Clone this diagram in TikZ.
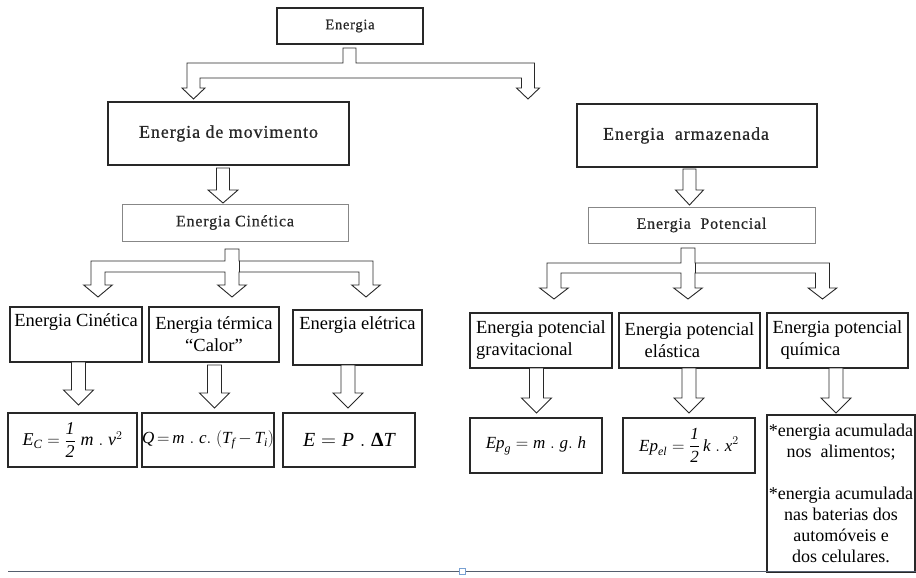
\documentclass[tikz,border=0pt]{standalone}
\usepackage{amsmath}
\usepackage{fontspec}
\setmainfont{Liberation Serif}
\newfontfamily\spaced[LetterSpace=5, FakeBold=0.8]{Liberation Serif}
\usetikzlibrary{calc}
\definecolor{inkgray}{RGB}{40,40,40}
\definecolor{boxgray}{RGB}{135,135,135}
\definecolor{rulegray}{RGB}{85,95,110}
\definecolor{handleblue}{RGB}{120,160,210}

\newcommand{\itf}[1]{\textit{#1}}
% stem half width, head half width, head height of the block arrows
\newcommand{\stemw}{7}
\newcommand{\headw}{14.5}
\newcommand{\headh}{15}

% source, target, x, gap below source, gap above target
\newcommand{\blockarrow}[5]{%
  \coordinate (top) at ($(#1.south -| #3,0)+(0,#4)$);
  \coordinate (tip) at ($(#2.north -| #3,0)+(0,-#5)$);
  \draw[blockarrow] ($(top)+(-\stemw,0)$) -- ($(top)+(\stemw,0)$)
    -- ($(tip)+(\stemw,-\headh)$) -- ($(tip)+(\headw,-\headh)$) -- (tip)
    -- ($(tip)+(-\headw,-\headh)$) -- ($(tip)+(-\stemw,-\headh)$) -- cycle;}

% source, stem x, gap, bar top, bar bottom, left x, right x, tip y
\newcommand{\forktwo}[8]{%
  \coordinate (top) at ($(#1.south -| #2,0)+(0,#3)$);
  \draw[blockarrow] ($(top)+(-\stemw,0)$) -- ($(top)+(\stemw,0)$) -- ({#2+\stemw},#4)
    -- ({#7+\stemw},#4) -- ({#7+\stemw},{#8-\headh}) -- ({#7+\headw},{#8-\headh}) -- (#7,#8)
    -- ({#7-\headw},{#8-\headh}) -- ({#7-\stemw},{#8-\headh}) -- ({#7-\stemw},#5)
    -- ({#6+\stemw},#5) -- ({#6+\stemw},{#8-\headh}) -- ({#6+\headw},{#8-\headh}) -- (#6,#8)
    -- ({#6-\headw},{#8-\headh}) -- ({#6-\stemw},{#8-\headh}) -- ({#6-\stemw},#4)
    -- ({#2-\stemw},#4) -- cycle;}

% same, with a middle branch under the stem
\newcommand{\forkthree}[8]{%
  \coordinate (top) at ($(#1.south -| #2,0)+(0,#3)$);
  \draw[blockarrow] ($(top)+(-\stemw,0)$) -- ($(top)+(\stemw,0)$) -- ({#2+\stemw},#4)
    -- ({#7+\stemw},#4) -- ({#7+\stemw},{#8-\headh}) -- ({#7+\headw},{#8-\headh}) -- (#7,#8)
    -- ({#7-\headw},{#8-\headh}) -- ({#7-\stemw},{#8-\headh}) -- ({#7-\stemw},#5)
    -- ({#2+\stemw},#5) -- ({#2+\stemw},{#8-\headh}) -- ({#2+\headw},{#8-\headh}) -- (#2,#8)
    -- ({#2-\headw},{#8-\headh}) -- ({#2-\stemw},{#8-\headh}) -- ({#2-\stemw},#5)
    -- ({#6+\stemw},#5) -- ({#6+\stemw},{#8-\headh}) -- ({#6+\headw},{#8-\headh}) -- (#6,#8)
    -- ({#6-\headw},{#8-\headh}) -- ({#6-\stemw},{#8-\headh}) -- ({#6-\stemw},#4)
    -- ({#2-\stemw},#4) -- cycle;
  \draw[blockarrow] ({#2+\stemw},#4) -- ({#2+\stemw},#5);}

\begin{document}
\begin{tikzpicture}[x=1pt, y=-1pt,
    plainbox/.style={draw=inkgray, line width=1.2pt, inner sep=0pt, outer sep=0pt,
      anchor=north west, align=center, text=inkgray},
    headbox/.style={plainbox, font=\spaced\fontsize{18}{21}\selectfont},
    subbox/.style={plainbox, draw=boxgray, line width=0.9pt, font=\spaced\fontsize{16}{19}\selectfont},
    leafbox/.style={plainbox, line width=1.4pt, text=black, font=\fontsize{18.5}{22}\selectfont},
    formbox/.style={plainbox, line width=1.4pt, text=black, font=\fontsize{17}{20}\selectfont},
    blockarrow/.style={draw=inkgray, line width=0.9pt, fill=white, line join=miter}
    ]
    \useasboundingbox (0,0) rectangle (916,578);

    % top levels
    \node[headbox, minimum width=146pt, minimum height=36pt, font=\spaced\fontsize{14.5}{17}\selectfont] (energia) at (277,8) {Energia};
    \node[headbox, minimum width=241pt, minimum height=63pt] (movimento) at (108,102) {Energia de movimento};
    \node[headbox, minimum width=240pt, minimum height=63pt] (armazenada) at (577,104) {Energia\ \ armazenada\hspace{22pt}};
    \node[subbox, minimum width=226pt, minimum height=37pt] (cinetica) at (122,204) {Energia Cinética};
    \node[subbox, minimum width=227pt, minimum height=36pt] (potencial) at (588,207) {Energia\ \ Potencial};

    % kinds of energy
    \node[leafbox, minimum width=132pt, minimum height=55pt] (ecin) at (10,307) {Energia Cinética\\ \strut};
    \node[leafbox, minimum width=130pt, minimum height=55pt] (eterm) at (149,307) {Energia térmica\\``Calor''};
    \node[leafbox, minimum width=129pt, minimum height=55pt] (eelet) at (293,310) {Energia elétrica\\ \strut};
    \node[leafbox, align=left, minimum width=142pt, minimum height=55pt] (egrav) at (470,313) {Energia potencial\\gravitacional};
    \node[leafbox, align=left, minimum width=141pt, minimum height=55pt] (eelas) at (619,313) {Energia potencial\\\hspace*{20pt}elástica};
    \node[leafbox, align=left, minimum width=141pt, minimum height=55pt] (equim) at (767,313) {Energia potencial\\\hspace*{8pt}química};

    % formulas
    \node[formbox, minimum width=129pt, minimum height=54pt, font=\fontsize{18}{21}\selectfont] (fcin) at (8,413) {$\itf{E}_{\itf{C}} = \dfrac{\itf{1}}{\itf{2}}\;\itf{m}\;.\;\itf{v}^{2}$};
    \node[formbox, minimum width=132pt, minimum height=54pt] (fterm) at (142,413) {$\itf{Q}\,{=}\,\itf{m}\;.\;\itf{c}.\;(\itf{T}_{\itf{f}}\,{-}\,\itf{T}_{\itf{i}})$};
    \node[formbox, minimum width=132pt, minimum height=54pt, font=\fontsize{20}{24}\selectfont] (felet) at (283,413) {$\itf{E} = \itf{P}\;.\;\textbf{Δ}\itf{T}$};
    \node[formbox, minimum width=132pt, minimum height=55pt] (fgrav) at (470,418) {$\itf{Ep}_{\itf{g}} = \itf{m}\;.\;\itf{g}.\;\itf{h}$};
    \node[formbox, minimum width=132pt, minimum height=55pt] (felas) at (623,418) {$\itf{Ep}_{\itf{el}} = \dfrac{\itf{1}}{\itf{2}}\,\itf{k}\;.\;\itf{x}^{2}$};
    \node[formbox, minimum width=148pt, minimum height=157pt, font=\fontsize{18}{21}\selectfont] (fquim) at (767,415)
      {*energia acumulada\\nos\ \ alimentos;\\[21pt]*energia acumulada\\nas baterias dos\\automóveis e\\dos celulares.};

    % the block arrows
    \renewcommand{\stemw}{6.5}\renewcommand{\headw}{11.5}\renewcommand{\headh}{11}
    \forktwo{energia}{349.5}{4}{63}{78}{193.5}{528}{99}
    \renewcommand{\headw}{15}\renewcommand{\headh}{13}
    \blockarrow{movimento}{cinetica}{223}{3}{1}
    \renewcommand{\headw}{14}\renewcommand{\headh}{15}
    \blockarrow{armazenada}{potencial}{689.5}{2}{2}
    \renewcommand{\stemw}{7}\renewcommand{\headw}{14.3}\renewcommand{\headh}{12}
    \forkthree{cinetica}{232}{8}{261}{272}{98}{366}{297}
    \renewcommand{\headh}{11}
    \forkthree{potencial}{688}{5}{263}{273}{554}{822.5}{299}
    \renewcommand{\headw}{15}\renewcommand{\headh}{15}
    \blockarrow{ecin}{fcin}{78.5}{0}{8}
    \blockarrow{eterm}{fterm}{214.5}{3}{5}
    \blockarrow{eelet}{felet}{348}{0}{5}
    \blockarrow{egrav}{fgrav}{536.5}{0}{5}
    \blockarrow{eelas}{felas}{689}{0}{5}
    \blockarrow{equim}{fquim}{836}{0}{2}

    % bottom rule
    \coordinate (rulestart) at (8,571);
    \coordinate (ruleend) at (916,571);
    \draw[rulegray, line width=0.8pt] (rulestart) -- (ruleend);
    \node[draw=handleblue, fill=white, line width=0.8pt, minimum size=6pt, inner sep=0pt] (handle) at (462,571) {};
\end{tikzpicture}
\end{document}
